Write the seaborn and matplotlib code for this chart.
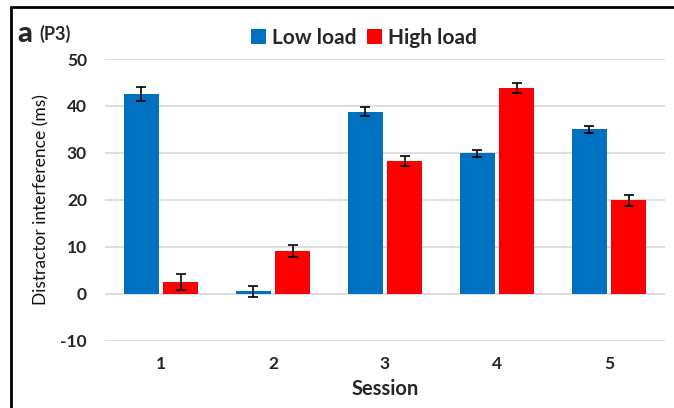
import matplotlib
matplotlib.use("Agg")
import matplotlib.pyplot as plt
from matplotlib.lines import Line2D
import seaborn as sns
import pandas as pd

# Distractor interference (ms) per session, P3 component
sessions = ["1", "2", "3", "4", "5"]
low_load = [42.6, 0.5, 38.8, 29.9, 35.0]
high_load = [2.5, 9.0, 28.3, 43.8, 19.9]
low_err = [1.5, 1.2, 1.0, 0.8, 0.8]
high_err = [1.7, 1.3, 1.0, 1.0, 1.2]
series = ["Low load", "High load"]
colors = ["#0070C0", "#FF0000"]
y_ticks = [-10, 0, 10, 20, 30, 40, 50]

df = pd.DataFrame({
    "Session": sessions * 2,
    "Load": [series[0]] * len(sessions) + [series[1]] * len(sessions),
    "Value": low_load + high_load,
    "Err": low_err + high_err,
})

sns.set_theme(style="white")
plt.rcParams["font.family"] = ["Lato", "DejaVu Sans"]

fig = plt.figure(figsize=(6.74, 4.08), dpi=100)
ax = fig.add_axes([105 / 674, 67.5 / 408, 560 / 674, 281.5 / 408])

sns.barplot(data=df, x="Session", y="Value", hue="Load", order=sessions,
            hue_order=series, palette=colors, width=0.7, gap=0.1,
            errorbar=None, linewidth=0, saturation=1, ax=ax, zorder=2)

# error bars centred on each drawn bar
bars = list(ax.patches)[:len(df)]
for p, (_, row) in zip(bars, df.iterrows()):
    cx = p.get_x() + p.get_width() / 2
    ax.errorbar(cx, row["Value"], yerr=row["Err"], fmt="none", ecolor="black",
                elinewidth=1.2, capsize=3.5, capthick=1.2, zorder=3)

ax.set_ylim(-10, 50)
ax.set_xlim(-0.5, 4.5)
ax.set_yticks(y_ticks)
ax.set_yticklabels([str(t) for t in y_ticks], fontsize=12.5, fontweight="bold")
ax.set_xticklabels(sessions, fontsize=12.5, fontweight="bold")
ax.tick_params(axis="y", length=0, pad=13)
ax.tick_params(axis="x", length=0, pad=11)
ax.yaxis.grid(True, color="#D9D9D9", linewidth=1.2, zorder=0)
ax.set_axisbelow(True)
for s in ax.spines.values():
    s.set_visible(False)

ax.set_xlabel("Session", fontsize=14.5, fontweight="bold", labelpad=5)
ax.set_ylabel("Distractor interference (ms)", fontsize=12.5, labelpad=8,
              color="#111111")

handles, labels = ax.get_legend_handles_labels()
if ax.legend_:
    ax.legend_.remove()
fig.legend(handles, labels, loc="center", bbox_to_anchor=(364 / 674, 1 - 38 / 408),
           ncol=2, frameon=False, handlelength=0.7, handleheight=0.7,
           handletextpad=0.3, columnspacing=0.5,
           prop={"size": 15, "weight": "bold"})

fig.text(17 / 674, 1 - 34 / 408, "a", fontsize=21, fontweight="black", va="center")
fig.text(39 / 674, 1 - 34 / 408, "(P3)", fontsize=13, fontweight="bold", va="center")

# panel frame edges (left and top)
fig.add_artist(Line2D([11 / 674, 11 / 674], [0, 1 - 7 / 408], color="black",
                      linewidth=2, transform=fig.transFigure))
fig.add_artist(Line2D([11 / 674, 1], [1 - 7 / 408, 1 - 7 / 408], color="black",
                      linewidth=2, transform=fig.transFigure))

fig.savefig("out.png", dpi=100)
